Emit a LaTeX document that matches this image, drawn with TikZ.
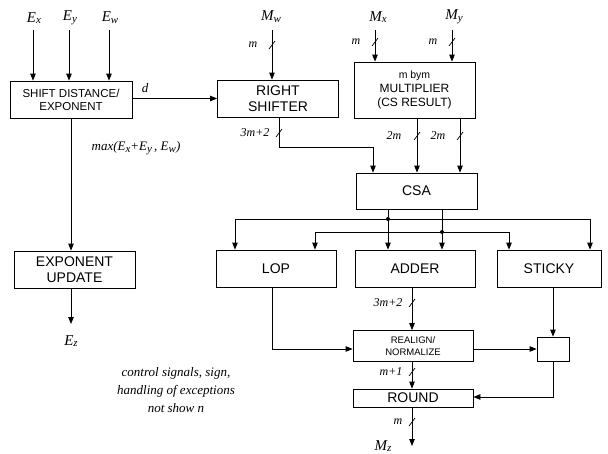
\documentclass[tikz,border=0pt]{standalone}
\usepackage{fontspec}
\setmainfont{Liberation Serif}
\setsansfont{Liberation Sans}
\usetikzlibrary{arrows.meta}
\newcommand\lbl[2]{\textit{#1{\fontsize{11}{12}\selectfont\raisebox{-0.35ex}{#2}}}}
\begin{document}
\begin{tikzpicture}[x=1pt,y=-1pt,
  box/.style={draw, line width=0.8pt, align=center, inner sep=0pt,
    font=\sffamily\fontsize{14}{16}\selectfont},
  wire/.style={line width=0.8pt},
  arr/.style={wire, -{Triangle[length=7pt,width=5.5pt]}},
  ital/.style={font=\itshape\fontsize{13}{15}\selectfont},
  big/.style={font=\itshape\fontsize{15}{17}\selectfont},
  small/.style={font=\itshape\fontsize{12}{13}\selectfont},
  busmark/.pic={\draw[line width=0.7pt] (-3pt,-4pt) -- (3pt,4pt);},
  junction/.style={circle, fill, inner sep=0pt, minimum size=4pt}]
\useasboundingbox (0,0) rectangle (608,453);

% boxes
\node[box, minimum width=122, minimum height=37, font=\sffamily\fontsize{11.5}{13}\selectfont] (sde) at (71,99.5) {SHIFT DISTANCE/\\EXPONENT};
\node[box, minimum width=121, minimum height=37] (rs) at (278,98.5) {RIGHT\\SHIFTER};
\node[box, minimum width=121, minimum height=56, font=\sffamily\fontsize{12}{14}\selectfont] (mul) at (414.5,90) {{\fontsize{10.5}{12}\selectfont m bym}\\MULTIPLIER\\(CS RESULT)};
\node[box, minimum width=121, minimum height=36] (csa) at (416.5,191) {CSA};
\node[box, minimum width=121, minimum height=37] (eu) at (74.5,269.5) {EXPONENT\\UPDATE};
\node[box, minimum width=120, minimum height=37] (lop) at (276,268.5) {LOP};
\node[box, minimum width=120, minimum height=37] (add) at (415,268.5) {ADDER};
\node[box, minimum width=104, minimum height=37] (sticky) at (549,268.5) {STICKY};
\node[box, minimum width=120, minimum height=31, font=\sffamily\fontsize{9.5}{12}\selectfont] (ra) at (413,346) {REALIGN/\\NORMALIZE};
\node[box, minimum width=32, minimum height=24] (sb) at (553,349) {};
\node[box, minimum width=120, minimum height=18] (rnd) at (413,398) {ROUND};

% input labels
\node[big] (lex) at (34,18) {\lbl{E}{x}};
\node[big] (ley) at (70,18) {\lbl{E}{y}};
\node[big] (lew) at (110,18) {\lbl{E}{w}};
\node[big] (lmw) at (271,17) {\lbl{M}{w}};
\node[big] (lmx) at (378,17) {\lbl{M}{x}};
\node[big] (lmy) at (454,17) {\lbl{M}{y}};
\node[big] (lez) at (71,341) {\lbl{E}{z}};
\node[big] (lmz) at (383,446) {\lbl{M}{z}};

\coordinate (ex) at (33,30);
\coordinate (ey) at (69,30);
\coordinate (ew) at (109,30);
\coordinate (mw) at (272,30);
\coordinate (mx) at (375,30);
\coordinate (my) at (452,30);
\coordinate (ez) at (71,324);
\coordinate (mz) at (412,446);

% input arrows
\draw[arr] (ex) -- (ex |- sde.north);
\draw[arr] (ey) -- (ey |- sde.north);
\draw[arr] (ew) -- (ew |- sde.north);
\draw[arr] (mw) -- (mw |- rs.north);
\draw[arr] (mx) -- (mx |- mul.north);
\draw[arr] (my) -- (my |- mul.north);

% exponent path
\draw[arr] (sde.east |- rs.west) -- (rs.west);
\node[ital] (ld) at (145,88) {\textit{d}};
\draw[arr] (sde.south -| ez) -- (ez |- eu.north);
\node[ital] (lmax) at (136,148) {\textit{max}(\lbl{E}{x}+\lbl{E}{y}\,, \lbl{E}{w})};
\draw[arr] (eu.south -| ez) -- (ez);

% shifter to CSA
\coordinate (c1) at (279,147);
\coordinate (c2) at (373,147);
\draw[arr] (rs.south -| c1) -- (c1) -- (c2) -- (c2 |- csa.north);
\coordinate (m1) at (417,118);
\coordinate (m2) at (460,118);
\draw[arr] (mul.south -| m1) -- (m1 |- csa.north);
\draw[arr] (mul.south -| m2) -- (m2 |- csa.north);

% CSA outputs
\coordinate (s1) at (388,219);
\coordinate (s2) at (442,232);
\coordinate (b1l) at (235,219);
\coordinate (b1r) at (590,219);
\coordinate (b2l) at (315,232);
\coordinate (b2r) at (509,232);
\draw[wire] (csa.south -| s1) -- (s1);
\draw[wire] (csa.south -| s2) -- (s2);
\draw[arr] (s1) -- (s1 |- add.north);
\draw[arr] (s2) -- (s2 |- add.north);
\draw[arr] (b1r) -- (b1l) -- (b1l |- lop.north);
\draw[arr] (b1l -| s1) -- (b1r) -- (b1r |- sticky.north);
\draw[arr] (b2r) -- (b2l) -- (b2l |- lop.north);
\draw[arr] (b2l -| s2) -- (b2r) -- (b2r |- sticky.north);
\node[junction] (j1) at (s1) {};
\node[junction] (j2) at (s2) {};

% lower part
\coordinate (l1) at (272,349);
\draw[arr] (lop.south -| l1) -- (l1) -- (ra.west |- l1);
\coordinate (a1) at (412,290);
\draw[arr] (add.south -| a1) -- (a1 |- ra.north);
\draw[arr] (ra.east |- sb.west) -- (sb.west);
\draw[arr] (sticky.south -| sb.north) -- (sb.north);
\coordinate (r1) at (553,397);
\draw[arr] (sb.south) -- (r1) -- (rnd.east |- r1);
\draw[arr] (ra.south -| a1) -- (a1 |- rnd.north);
\draw[arr] (rnd.south -| mz) -- (mz);

% bus width marks
\pic at (272,45) {busmark};
\node[small] (lm1) at (253,45) {m};
\pic at (375,42) {busmark};
\node[small] (lm2) at (356,42) {m};
\pic at (452,42) {busmark};
\node[small] (lm3) at (433,42) {m};
\pic at (417,136) {busmark};
\node[small] (l2m1) at (394,136) {2m};
\pic at (460,136) {busmark};
\node[small] (l2m2) at (438,136) {2m};
\pic at (279,133) {busmark};
\node[small] (l3m1) at (255,133) {3m+2};
\pic at (412,303) {busmark};
\node[small] (l3m2) at (388,303) {3m+2};
\pic at (412,372) {busmark};
\node[small] (lmp) at (391,372) {m+1};
\pic at (412,422) {busmark};
\node[small] (lmr) at (398,422) {m};

% note
\node[ital, align=center, font=\itshape\fontsize{13}{18}\selectfont] (note) at (176,390) {control signals, sign,\\handling of exceptions\\not show n};
\end{tikzpicture}
\end{document}
